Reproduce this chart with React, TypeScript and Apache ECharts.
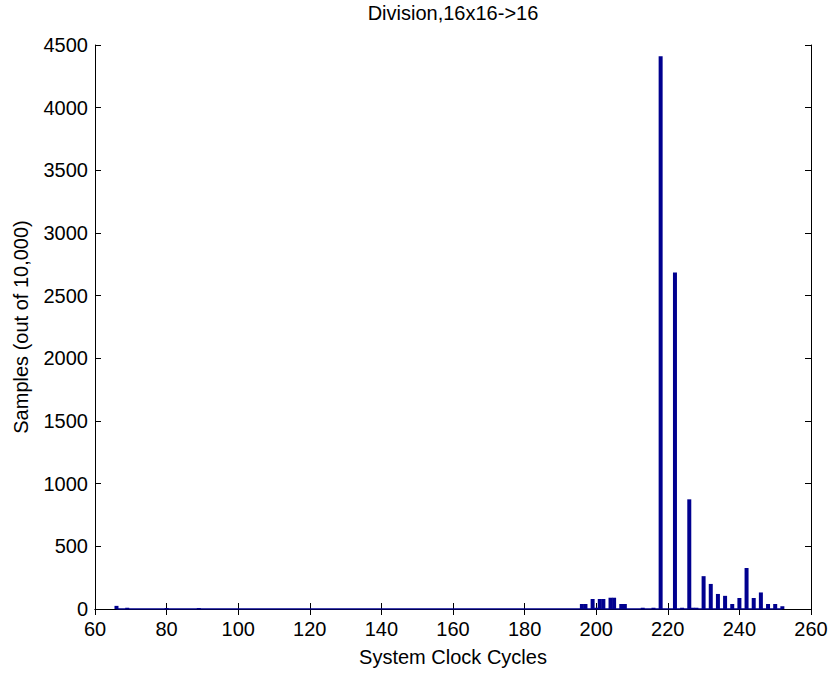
import React, { useEffect, useRef } from "react";
import * as echarts from "echarts";

const TITLE = "Division,16x16->16";
const X_NAME = "System Clock Cycles";
const Y_NAME = "Samples (out of 10,000)";

const cycles = [
  66, 69, 80, 89, 196, 197, 199, 200, 201, 202, 204, 205, 207, 208, 213, 216,
  218, 222, 224, 226, 227, 228, 230, 232, 234, 236, 238, 240, 242, 244, 246,
  248, 250, 252,
];
const samples = [
  25, 10, 8, 8, 40, 40, 80, 10, 80, 80, 90, 90, 40, 40, 10, 10,
  4410, 2685, 10, 875, 10, 10, 262, 200, 120, 105, 40, 88, 327, 88, 132,
  40, 40, 22,
];
const baselineRange = [66, 252];

const X_MIN = 60;
const X_MAX = 260;
const X_STEP = 20;
const Y_MIN = 0;
const Y_MAX = 4500;
const Y_STEP = 500;

const BAR_COLOR = "#00008f";
const FONT = "'Liberation Sans', Arial, Helvetica, sans-serif";

export default function App() {
  const ref = useRef<HTMLDivElement>(null);
  useEffect(() => {
    if (!ref.current) return;
    const chart = echarts.init(ref.current, undefined, { renderer: "svg" });
    const axisLine = { show: true, lineStyle: { color: "#000", width: 1 } };
    const tick = { show: true, inside: true, length: 6, lineStyle: { color: "#000" } };
    const label = { color: "#000", fontSize: 20, fontFamily: FONT, formatter: (v: number) => String(v) };
    chart.setOption({
      animation: false,
      backgroundColor: "#fff",
      graphic: [
        {
          type: "text",
          x: 453,
          y: 13,
          style: {
            text: TITLE,
            fill: "#000",
            font: `20px ${FONT}`,
            textAlign: "center",
            textVerticalAlign: "middle",
          },
        },
      ],
      grid: { left: 95, right: 24, top: 45, bottom: 64, containLabel: false, outerBoundsMode: "none" },
      xAxis: [
        {
          type: "value",
          min: X_MIN,
          max: X_MAX,
          interval: X_STEP,
          position: "bottom",
          axisLine,
          axisTick: tick,
          splitLine: { show: false },
          axisLabel: { ...label, margin: 10 },
          name: X_NAME,
          nameLocation: "middle",
          nameGap: 38,
          nameTextStyle: { color: "#000", fontSize: 20, fontFamily: FONT },
        },
        {
          type: "value",
          min: X_MIN,
          max: X_MAX,
          interval: X_STEP,
          position: "top",
          axisLine,
          axisTick: tick,
          splitLine: { show: false },
          axisLabel: { show: false },
        },
      ],
      yAxis: [
        {
          type: "value",
          min: Y_MIN,
          max: Y_MAX,
          interval: Y_STEP,
          position: "left",
          axisLine,
          axisTick: tick,
          splitLine: { show: false },
          axisLabel: { ...label, margin: 7 },
          name: Y_NAME,
          nameLocation: "middle",
          nameGap: 64,
          nameTextStyle: { color: "#000", fontSize: 20, fontFamily: FONT },
        },
        {
          type: "value",
          min: Y_MIN,
          max: Y_MAX,
          interval: Y_STEP,
          position: "right",
          axisLine,
          axisTick: tick,
          splitLine: { show: false },
          axisLabel: { show: false },
        },
      ],
      series: [
        {
          type: "line",
          data: baselineRange.map((x) => [x, 0]),
          symbol: "none",
          lineStyle: { color: BAR_COLOR, width: 1.5 },
          z: 3,
          silent: true,
        },
        {
          type: "bar",
          data: cycles.map((x, i) => [x, samples[i]]),
          barWidth: 4,
          itemStyle: { color: BAR_COLOR },
          z: 4,
        },
      ],
    });
    return () => chart.dispose();
  }, []);
  return (
    <div
      ref={ref}
      style={{ position: "absolute", left: 0, top: 0, width: 835, height: 673 }}
    />
  );
}
